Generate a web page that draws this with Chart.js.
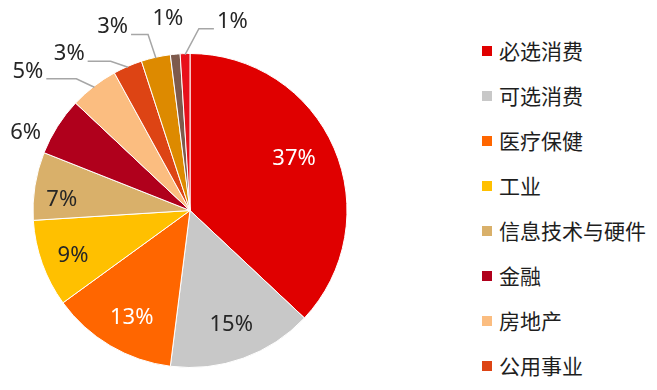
<!DOCTYPE html>
<html>
<head>
<meta charset="utf-8">
<script src="https://cdn.jsdelivr.net/npm/chart.js@4/dist/chart.umd.min.js"></script>
<style>
  html, body { margin: 0; padding: 0; background: #fff; overflow: hidden; }
  #wrap { position: relative; width: 657px; height: 390px; overflow: hidden; }
  #chartBox { position: absolute; left: 1px; top: 0; width: 378px; height: 390px; }
  #legend { position: absolute; left: 482px; top: 28px; margin: 0; padding: 0; list-style: none;
            font-family: "Noto Sans CJK SC", sans-serif; font-size: 21px; color: #1e1e1e; }
  #legend li { height: 45px; line-height: 45px; white-space: nowrap; }
  #legend span.box { display: inline-block; width: 10px; height: 10px; margin-right: 7px; vertical-align: middle; position: relative; top: -2px; }
</style>
</head>
<body>
<div id="wrap">
  <div id="chartBox"><canvas id="myChart"></canvas></div>
  <ul id="legend"></ul>
</div>
<script>
// sector shares (%), clockwise from 12 o'clock
const categories = ['必选消费', '可选消费', '医疗保健', '工业', '信息技术与硬件', '金融', '房地产', '公用事业', '原材料', '能源', '电信服务'];
const shares = [37, 15, 13, 9, 7, 6, 5, 3, 3, 1, 1];
const pctLabels = ['37%', '15%', '13%', '9%', '7%', '6%', '5%', '3%', '3%', '1%', '1%'];
const colors = ['#e00000', '#c8c8c8', '#ff6600', '#ffc000', '#d9b06a', '#b0001c', '#fbbd80', '#dd4414', '#dd8a00', '#7d5a4c', '#e8101a'];
const labelColors = ['#fff', '#262626', '#fff', '#262626', '#262626', '#262626', '#262626', '#262626', '#262626', '#262626', '#262626'];

// where each percentage label goes: inside (fraction of radius) or outside (with optional leader)
const labelPlace = [
    {inside: 0.74, da: -3},
    {inside: 0.775, da: 0},
    {inside: 0.775, da: -2},
    {inside: 0.8, da: -1.5},
    {inside: 0.82, da: -4},
    {outside: 25, da: -7},
    {elbow: 17, da: -3, run: -30},
    {elbow: 12, da: -4.6, run: -23},
    {elbow: 24, da: -0.8, run: -17},
    {outside: 36, da: -1.2},
    {elbow: 25, da: 4.6, run: 15}
];

// html legend (items past the bottom edge are clipped, like the original)
const legendEl = document.getElementById('legend');
categories.forEach(function(name, i) {
    const li = document.createElement('li');
    li.innerHTML = '<span class="box" style="background:' + colors[i] + '"></span>' + name;
    legendEl.appendChild(li);
});

const pctLabelPlugin = {
    id: 'pctLabels',
    afterDatasetsDraw(chart) {
        const ctx = chart.ctx;
        const arcs = chart.getDatasetMeta(0).data;
        ctx.save();
        ctx.font = '22px "Noto Sans", sans-serif';
        arcs.forEach(function(arc, i) {
            const p = arc.getProps(['x', 'y', 'startAngle', 'endAngle', 'outerRadius'], true);
            const place = labelPlace[i];
            const a = (p.startAngle + p.endAngle) / 2 + place.da * Math.PI / 180;
            const R = p.outerRadius;
            ctx.fillStyle = labelColors[i];
            if (place.inside !== undefined) {
                ctx.textAlign = 'center';
                ctx.textBaseline = 'middle';
                ctx.fillText(pctLabels[i], p.x + Math.cos(a) * R * place.inside, p.y + Math.sin(a) * R * place.inside);
            } else if (place.outside !== undefined) {
                ctx.textAlign = 'center';
                ctx.textBaseline = 'middle';
                ctx.fillText(pctLabels[i], p.x + Math.cos(a) * (R + place.outside), p.y + Math.sin(a) * (R + place.outside));
            } else {
                const am = (p.startAngle + p.endAngle) / 2;
                const sx = p.x + Math.cos(am) * (R - 1), sy = p.y + Math.sin(am) * (R - 1);
                const ex = p.x + Math.cos(a) * (R + place.elbow), ey = p.y + Math.sin(a) * (R + place.elbow);
                const tx = ex + place.run;
                ctx.strokeStyle = '#a6a6a6';
                ctx.lineWidth = 1.5;
                ctx.beginPath();
                ctx.moveTo(sx, sy);
                ctx.lineTo(ex, ey);
                ctx.lineTo(tx, ey);
                ctx.stroke();
                ctx.textBaseline = 'alphabetic';
                ctx.textAlign = place.run < 0 ? 'right' : 'left';
                ctx.fillText(pctLabels[i], tx + (place.run < 0 ? -3 : 3), ey - 1);
            }
        });
        ctx.restore();
    }
};

const ctx = document.getElementById('myChart').getContext('2d');
new Chart(ctx, {
    type: 'pie',
    data: {
        labels: categories,
        datasets: [{
            data: shares,
            backgroundColor: colors,
            borderColor: '#ffffff',
            borderWidth: 1
        }]
    },
    options: {
        responsive: true,
        maintainAspectRatio: false,
        animation: false,
        layout: { padding: { top: 53, bottom: 22, left: 0, right: 0 } },
        plugins: {
            legend: { display: false },
            tooltip: { enabled: false }
        }
    },
    plugins: [pctLabelPlugin]
});
</script>
</body>
</html>
